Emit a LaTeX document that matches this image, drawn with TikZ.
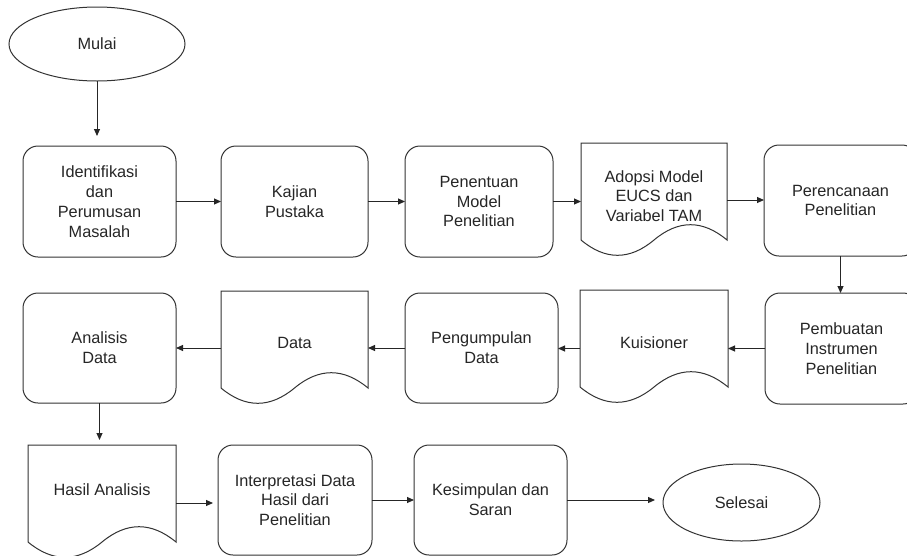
\documentclass[tikz,border=0pt]{standalone}
\usepackage{fontspec}
\setmainfont{Liberation Sans}
\usetikzlibrary{arrows.meta,calc,shapes.geometric}
\tikzset{
  shapeline/.style={draw=black!80,line width=1pt},
  txt/.style={text=black!85,font=\fontsize{16.3}{19.8}\selectfont,align=center},
  procbox/.style={shapeline,txt,rounded corners=15pt,minimum width=#1,minimum height=111pt,inner sep=0pt,outer sep=0pt},
  docbox/.style={draw=none,minimum width=#1,minimum height=114pt,inner sep=0pt,outer sep=0pt},
  termel/.style={shapeline,txt,ellipse,inner sep=0pt,outer sep=0pt},
  flow/.style={draw=black!85,line width=1pt,-{Triangle[length=7pt,width=6pt]}},
}
\newcommand{\docoutline}[1]{%
  \draw[shapeline] (#1.north west) -- (#1.north east)
    -- ($(#1.south east)+(0,-17)$)
    .. controls ($(#1.south east)!1/6!(#1.south west)+(0,-37.4)$) and ($(#1.south east)!1/3!(#1.south west)+(0,-37.4)$) .. ($(#1.south east)!0.5!(#1.south west)+(0,-17)$)
    .. controls ($(#1.south east)!2/3!(#1.south west)+(0,3.4)$) and ($(#1.south east)!5/6!(#1.south west)+(0,3.4)$) .. ($(#1.south west)+(0,-17)$)
    -- cycle;}
\begin{document}
\begin{tikzpicture}[x=1pt,y=-1pt]
\useasboundingbox[fill=white] (0,0) rectangle (907,555);
% row 0
\node[termel,minimum width=176pt,minimum height=74pt] (mulai) at (97,44) {Mulai};
% row 1
\node[procbox=153pt] (ident) at (99.5,201.5) {Identifikasi\\dan\\Perumusan\\Masalah};
\node[procbox=147pt] (kajian) at (294.5,201.5) {Kajian\\Pustaka};
\node[procbox=148pt] (penentuan) at (479,201.5) {Penentuan\\Model\\Penelitian};
\node[docbox=146pt] (adopsi) at (654,200) {};
\docoutline{adopsi}
\node[txt] (adopsiT) at ([yshift=4pt]adopsi.center) {Adopsi Model\\EUCS dan\\Variabel TAM};
\node[procbox=153pt] (perencanaan) at (840.5,200.5) {Perencanaan\\Penelitian};
% row 2
\node[procbox=153pt] (pembuatan) at (841.5,348.5) {Pembuatan\\Instrumen\\Penelitian};
\node[docbox=148pt] (kuisioner) at (654,347) {};
\docoutline{kuisioner}
\node[txt] (kuisionerT) at ([yshift=4pt]kuisioner.center) {Kuisioner};
\node[procbox=153pt,minimum height=110pt] (pengumpulan) at (481.5,348) {Pengumpulan\\Data};
\node[docbox=147pt] (data) at (294.5,348) {};
\docoutline{data}
\node[txt] (dataT) at ([yshift=5pt]data.center) {Data};
\node[procbox=153pt,minimum height=110pt] (analisis) at (99.5,348) {Analisis\\Data};
% row 3
\node[docbox=148pt] (hasil) at (102,502) {};
\docoutline{hasil}
\node[txt] (hasilT) at ([yshift=12pt]hasil.center) {Hasil Analisis};
\node[procbox=154pt,minimum height=110pt] (interp) at (295,500) {Interpretasi Data\\Hasil dari\\Penelitian};
\node[procbox=153pt,minimum height=110pt] (kesimpulan) at (490.5,500) {Kesimpulan dan\\Saran};
\node[termel,minimum width=157pt,minimum height=77pt] (selesai) at (741.5,502.5) {Selesai};
% connectors
\draw[flow,shorten >=10pt] (mulai.south) -- (mulai.south |- ident.north);
\draw[flow] (ident.east) -- (ident.east -| kajian.west);
\draw[flow] (kajian.east) -- (kajian.east -| penentuan.west);
\draw[flow] (penentuan.east) -- (penentuan.east -| adopsi.west);
\draw[flow] (adopsi.east) -- (adopsi.east -| perencanaan.west);
\draw[flow] (perencanaan.south) -- (perencanaan.south |- pembuatan.north);
\draw[flow] (pembuatan.west) -- (pembuatan.west -| kuisioner.east);
\draw[flow] (kuisioner.west |- pembuatan.west) -- (pembuatan.west -| pengumpulan.east);
\draw[flow] (pengumpulan.west) -- (pengumpulan.west -| data.east);
\draw[flow] (data.west |- pengumpulan.west) -- (pengumpulan.west -| analisis.east);
\draw[flow,shorten >=5pt] (analisis.south) -- (analisis.south |- hasil.north);
\coordinate (hE) at ([yshift=-3pt]hasil.east |- interp.west);
\draw[flow,shorten >=5pt] (hE) -- (hE -| interp.west);
\draw[flow] (interp.east) -- (kesimpulan.west);
\draw[flow,shorten >=8pt] (kesimpulan.east) -- (kesimpulan.east -| selesai.west);
\end{tikzpicture}
\end{document}
